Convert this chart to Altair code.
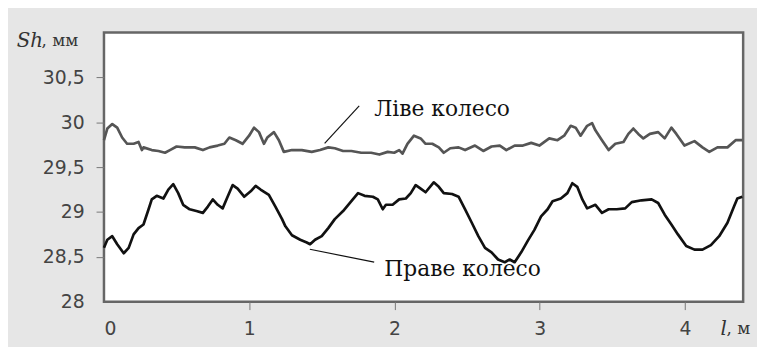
import altair as alt
import pandas as pd

# Left wheel (grey line)
left_x = [0, 0.023, 0.057, 0.091, 0.125, 0.159, 0.204, 0.238, 0.261, 0.272, 0.329, 0.375, 0.42, 0.454,
          0.5, 0.556, 0.625, 0.681, 0.727, 0.783, 0.829, 0.863, 0.908, 0.954, 0.999, 1.033, 1.067, 1.101,
          1.124, 1.17, 1.204, 1.238, 1.294, 1.362, 1.43, 1.487, 1.544, 1.589, 1.646, 1.703, 1.771, 1.839,
          1.896, 1.953, 1.998, 2.032, 2.055, 2.089, 2.134, 2.18, 2.214, 2.26, 2.305, 2.339, 2.384, 2.441,
          2.486, 2.554, 2.611, 2.668, 2.725, 2.77, 2.827, 2.884, 2.941, 2.997, 3.065, 3.122, 3.168, 3.213,
          3.247, 3.281, 3.326, 3.36, 3.383, 3.428, 3.474, 3.52, 3.576, 3.61, 3.644, 3.678, 3.713, 3.758,
          3.815, 3.86, 3.906, 3.94, 3.996, 4.065, 4.12, 4.167, 4.223, 4.292, 4.348, 4.394]
left_y = [29.80, 29.93, 29.98, 29.94, 29.83, 29.76, 29.76, 29.78, 29.69, 29.72, 29.69, 29.68, 29.66, 29.69,
          29.73, 29.72, 29.72, 29.69, 29.72, 29.74, 29.76, 29.83, 29.80, 29.76, 29.85, 29.94, 29.89, 29.76,
          29.83, 29.89, 29.80, 29.67, 29.69, 29.69, 29.67, 29.69, 29.72, 29.71, 29.68, 29.68, 29.66, 29.66,
          29.64, 29.67, 29.66, 29.69, 29.65, 29.76, 29.85, 29.82, 29.76, 29.76, 29.72, 29.66, 29.71, 29.72,
          29.69, 29.74, 29.68, 29.73, 29.74, 29.69, 29.74, 29.74, 29.77, 29.74, 29.82, 29.80, 29.85, 29.96,
          29.94, 29.85, 29.96, 29.99, 29.91, 29.80, 29.69, 29.76, 29.78, 29.87, 29.93, 29.87, 29.82, 29.87,
          29.89, 29.82, 29.94, 29.87, 29.74, 29.79, 29.72, 29.67, 29.72, 29.72, 29.80, 29.80]

# Right wheel (black line)
right_x = [0, 0.023, 0.057, 0.091, 0.136, 0.170, 0.204, 0.238, 0.272, 0.307, 0.329, 0.363, 0.409, 0.443,
           0.477, 0.511, 0.545, 0.59, 0.636, 0.681, 0.715, 0.749, 0.783, 0.817, 0.851, 0.886, 0.92, 0.965,
           1.01, 1.044, 1.078, 1.135, 1.18, 1.226, 1.249, 1.294, 1.351, 1.396, 1.419, 1.453, 1.499, 1.544,
           1.589, 1.646, 1.703, 1.749, 1.794, 1.851, 1.885, 1.919, 1.941, 1.987, 2.032, 2.078, 2.112, 2.146,
           2.18, 2.214, 2.27, 2.305, 2.339, 2.396, 2.441, 2.486, 2.532, 2.577, 2.623, 2.668, 2.713, 2.759,
           2.793, 2.827, 2.872, 2.918, 2.963, 3.009, 3.054, 3.088, 3.145, 3.19, 3.224, 3.258, 3.293, 3.326,
           3.383, 3.428, 3.474, 3.53, 3.588, 3.633, 3.701, 3.77, 3.815, 3.86, 3.906, 3.951, 4.008, 4.065,
           4.12, 4.178, 4.235, 4.292, 4.337, 4.36, 4.394]
right_y = [28.60, 28.69, 28.73, 28.64, 28.54, 28.60, 28.75, 28.82, 28.86, 29.03, 29.14, 29.18, 29.15, 29.25,
           29.31, 29.21, 29.08, 29.03, 29.01, 28.99, 29.06, 29.14, 29.08, 29.04, 29.17, 29.30, 29.26, 29.17,
           29.23, 29.29, 29.25, 29.19, 29.06, 28.92, 28.84, 28.74, 28.69, 28.66, 28.64, 28.69, 28.73, 28.82,
           28.92, 29.01, 29.12, 29.21, 29.18, 29.17, 29.14, 29.03, 29.08, 29.08, 29.14, 29.15, 29.21, 29.30,
           29.26, 29.22, 29.33, 29.28, 29.21, 29.20, 29.17, 29.03, 28.88, 28.73, 28.60, 28.55, 28.47, 28.44,
           28.47, 28.44, 28.55, 28.68, 28.80, 28.95, 29.03, 29.12, 29.15, 29.21, 29.32, 29.28, 29.14, 29.04,
           29.08, 28.99, 29.03, 29.03, 29.04, 29.11, 29.13, 29.14, 29.10, 28.97, 28.86, 28.75, 28.62, 28.58,
           28.58, 28.63, 28.73, 28.88, 29.06, 29.15, 29.17]

series_names = ["Ліве колесо", "Праве колесо"]
series_colors = ["#555555", "#111111"]

x_ticks = [0, 1, 2, 3, 4]
y_ticks = [28, 28.5, 29, 29.5, 30, 30.5]
x_domain = [0, 4.4]
y_domain = [28, 31]

# annotation labels and leader lines (data coordinates)
label_text = ["Ліве колесо", "Праве колесо"]
label_x = [1.86, 1.93]
label_y = [30.15, 28.36]
leader_x = [1.519, 1.417]
leader_y = [29.764, 28.584]
leader_x2 = [1.757, 1.86]
leader_y2 = [30.183, 28.441]

# axis-title pieces: italic symbol + normal unit
sym_text = ["Sh", "l"]
sym_x = [-0.60, 4.244]
sym_y = [30.91, 27.70]
unit_text = [", мм", ", м"]
unit_x = [-0.43, 4.285]
unit_y = [30.90, 27.69]

df = pd.concat([
    pd.DataFrame({"l": left_x, "sh": left_y, "s": series_names[0]}),
    pd.DataFrame({"l": right_x, "sh": right_y, "s": series_names[1]}),
])
lab = pd.DataFrame({"t": label_text, "x": label_x, "y": label_y})
lead = pd.DataFrame({"x": leader_x, "y": leader_y, "x2": leader_x2, "y2": leader_y2})
sym = pd.DataFrame({"t": sym_text, "x": sym_x, "y": sym_y})
unit = pd.DataFrame({"t": unit_text, "x": unit_x, "y": unit_y})

xs = alt.Scale(domain=x_domain, nice=False, zero=False)
ys = alt.Scale(domain=y_domain, nice=False, zero=False)

x_axis = alt.Axis(
    values=x_ticks, title=None, grid=False, domain=False, tickSize=8,
    tickColor={"condition": {"test": "datum.value === 0", "value": "transparent"}, "value": "#777777"},
    labelFont="DejaVu Sans", labelFontSize=19, labelColor="#444444", labelPadding=10)
y_axis = alt.Axis(
    values=y_ticks, title=None, grid=False, domain=False, tickSize=8,
    tickColor={"condition": {"test": "datum.value === 28", "value": "transparent"}, "value": "#777777"},
    labelFont="DejaVu Sans", labelFontSize=19, labelColor="#444444", labelPadding=12,
    labelExpr="replace(toString(datum.value), '.', ',')")


def X(f):
    return alt.X(f, type="quantitative", scale=xs, axis=x_axis, title=None)


def Y(f):
    return alt.Y(f, type="quantitative", scale=ys, axis=y_axis, title=None)


lines = alt.Chart(df).mark_line(strokeWidth=2.7, strokeJoin="round").encode(
    x=X("l"), y=Y("sh"),
    color=alt.Color("s:N", scale=alt.Scale(domain=series_names, range=series_colors), legend=None),
    detail="s:N",
)

leaders = alt.Chart(lead).mark_rule(color="#111111", strokeWidth=1.2).encode(
    x=X("x"), y=Y("y"), x2="x2:Q", y2="y2:Q",
)

labels = alt.Chart(lab).mark_text(font="DejaVu Serif", fontSize=22, align="left", baseline="middle",
                                  color="#111111").encode(
    x=X("x"), y=Y("y"), text="t:N",
)

syms = alt.Chart(sym).mark_text(font="DejaVu Serif", fontStyle="italic", fontSize=20, align="left",
                                baseline="middle", color="#333333").encode(
    x=X("x"), y=Y("y"), text="t:N",
)

units = alt.Chart(unit).mark_text(font="DejaVu Serif", fontSize=17, align="left",
                                  baseline="middle", color="#333333").encode(
    x=X("x"), y=Y("y"), text="t:N",
)

chart = alt.layer(lines, leaders, labels, syms, units).properties(
    width=646, height=272,
    background="#e6e6e6",
    padding={"left": 97, "top": 23, "right": 14, "bottom": 44},
    autosize=alt.AutoSizeParams(type="none"),
).configure_view(
    fill="white", stroke="#666666", strokeWidth=2.5,
)

chart.save("out.html", embed_options={"renderer": "svg", "actions": False})
